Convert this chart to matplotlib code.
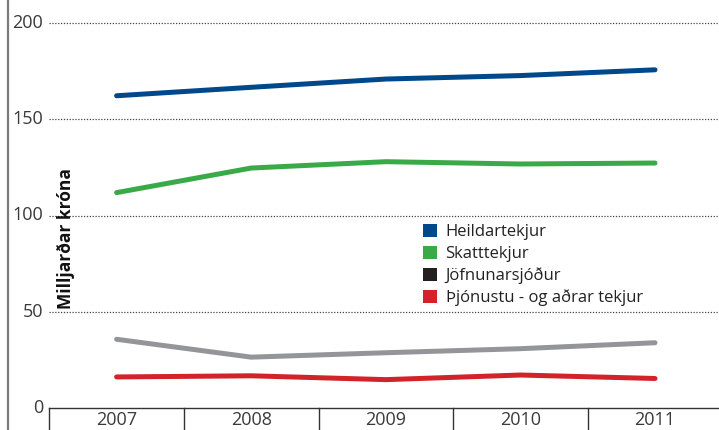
import matplotlib
matplotlib.use("Agg")
import matplotlib.pyplot as plt
from matplotlib.patches import Patch
from matplotlib.lines import Line2D

years = ["2007", "2008", "2009", "2010", "2011"]
heildartekjur = [162.3, 166.7, 171.0, 172.8, 175.8]
skatttekjur = [111.9, 124.7, 128.0, 126.8, 127.3]
jofnunarsjodur = [35.6, 26.3, 28.6, 30.7, 33.8]
thjonustu = [16.0, 16.6, 14.6, 17.0, 15.2]
yticks = [0, 50, 100, 150, 200]
labels = ["Heildartekjur", "Skatttekjur", "Jöfnunarsjóður", "Þjónustu - og aðrar tekjur"]

C_BLUE = "#00488c"
C_GREEN = "#3aaa48"
C_GRAY = "#949599"
C_RED = "#d2232a"
C_BLACK = "#231f20"
C_TXT = "#3a3a3a"

plt.rcParams['font.family'] = ['Open Sans', 'DejaVu Sans']

W, H = 719, 430
fig = plt.figure(figsize=(W / 100, H / 100), dpi=100)
x0 = 49.3
y0 = 407.7
ax = fig.add_axes([x0 / W, (H - y0) / H, 1 - x0 / W, y0 / H])
ax.set_xlim(-0.5, -0.5 + (W - x0) / 134.6)
ax.set_ylim(0, 200 * y0 / (y0 - 23.3))
for s in ax.spines.values():
    s.set_visible(False)
ax.set_xticks([])
ax.set_yticks([])

# gridlines
for t in yticks[1:]:
    ax.axhline(t, color="#444444", lw=0.9, ls=(0, (1, 1.3)), zorder=1)
# tick labels
for t in yticks:
    ax.text(-0.5 - 6 / 134.6, t, str(t), ha="right", va="center", fontsize=13,
            color=C_TXT, clip_on=False)

xs = list(range(len(years)))
for vals, col in [(heildartekjur, C_BLUE), (skatttekjur, C_GREEN),
                  (jofnunarsjodur, C_GRAY), (thjonustu, C_RED)]:
    ax.plot(xs, vals, color=col, lw=3.6, solid_capstyle="round",
            solid_joinstyle="round", zorder=3)

# category box axis
fig.add_artist(Line2D([x0 / W, 1], [(H - y0) / H] * 2, color="#333333", lw=1.0))
for i in range(len(years) + 1):
    xb = i - 0.5
    xf = (x0 + (xb + 0.5) * 134.6) / W
    if xf <= 1.0:
        fig.add_artist(Line2D([xf, xf], [0, (H - y0) / H], color="#333333", lw=1.0))
for i, y in enumerate(years):
    fig.text((x0 + (i + 0.5) * 134.6) / W, (H - 420) / H, y, ha="center", va="center",
             fontsize=13, color=C_TXT)

# left border
fig.add_artist(Line2D([7.5 / W, 7.5 / W], [0, 1], color="#7a7a7a", lw=1.6))

# y label
fig.text(65.5 / W, (H - 309) / H, "Milljarðar króna", rotation=90, ha="center",
         va="bottom", fontsize=12.5, fontweight="bold", color="#111111")

handles = [Patch(facecolor=c, edgecolor="none") for c in [C_BLUE, C_GREEN, C_BLACK, C_RED]]
leg = fig.legend(handles, labels, loc="upper left", bbox_to_anchor=(423 / W, (H - 224) / H),
                 frameon=False, fontsize=12, borderpad=0, borderaxespad=0,
                 handlelength=0.85, handleheight=0.85, handletextpad=0.5,
                 labelspacing=0.32)
for t in leg.get_texts():
    t.set_color("#222222")

fig.savefig("out.png", dpi=100)
